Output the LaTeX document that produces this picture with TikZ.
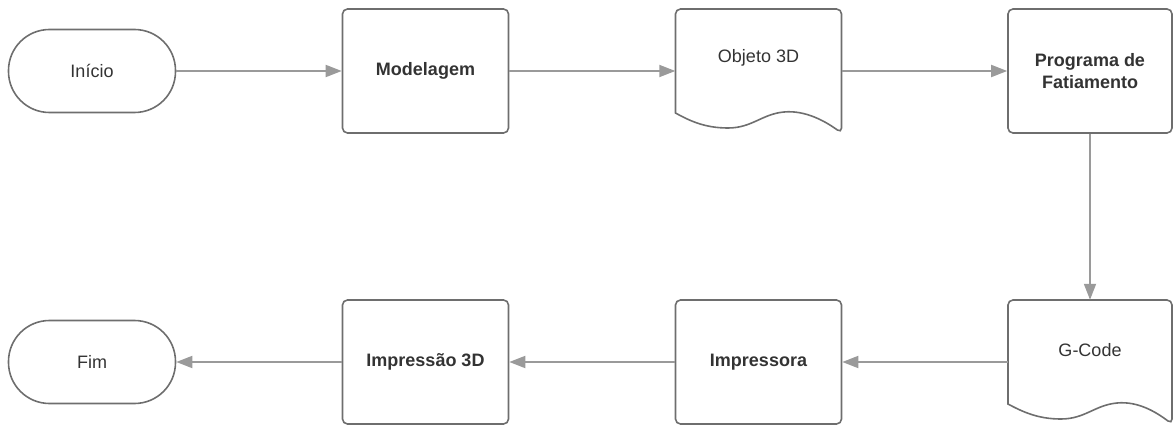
\documentclass[tikz,border=0pt]{standalone}
\usepackage{fontspec}
\setmainfont{Liberation Sans}
\usetikzlibrary{arrows.meta}
\definecolor{strokec}{HTML}{6E6E6E}
\definecolor{arrowc}{HTML}{9A9A9A}
\definecolor{textc}{HTML}{333333}
\tikzset{
  boxst/.style={draw=strokec, line width=1.6pt, rounded corners=5pt, minimum width=166pt, minimum height=124pt, inner sep=0pt, text=textc, font=\fontsize{18}{22}\selectfont\bfseries, align=center},
  termst/.style={draw=strokec, line width=1.6pt, rounded corners=41pt, minimum width=167pt, minimum height=83pt, inner sep=0pt, text=textc, font=\fontsize{18}{22}\selectfont},
  docst/.style={draw=none, minimum width=166pt, minimum height=124pt, inner sep=0pt},
  doctext/.style={text=textc, font=\fontsize{18}{22}\selectfont, inner sep=0pt},
  docline/.style={draw=strokec, line width=1.6pt, rounded corners=5pt},
  flow/.style={draw=arrowc, line width=1.8pt, -{Triangle[length=16pt,width=12pt]}}
}
\begin{document}
\begin{tikzpicture}[x=1pt,y=-1pt]
\useasboundingbox (0,0) rectangle (1173,425);
% top row
\node[termst] (inicio) at (92,71) {Início};
\node[boxst] (model) at (425.5,71) {Modelagem};
\node[docst] (obj) at (758.5,71) {};
\node[boxst, minimum width=164pt] (prog) at (1090,71) {Programa de\\Fatiamento};
% bottom row
\node[docst, minimum width=164pt] (gcode) at (1090,362) {};
\node[boxst] (impra) at (758.5,362) {Impressora};
\node[boxst] (impsao) at (425.5,362) {Impressão 3D};
\node[termst] (fim) at (92,362) {Fim};
% document shapes
\draw[docline] (675.5,113) -- (675.5,9) -- (841.5,9) -- (841.5,133) [sharp corners]
  .. controls (825,121) and (805,110) .. (784,112)
  .. controls (762,114) and (752,128) .. (728,128)
  .. controls (705,128) and (690,121) .. (675.5,113) -- cycle;
\node[doctext] (objt) at (758.5,58) {Objeto 3D};
\draw[docline] (1008,404) -- (1008,300) -- (1172,300) -- (1172,424) [sharp corners]
  .. controls (1156,412) and (1138,401) .. (1117,403)
  .. controls (1095,405) and (1085,419) .. (1061,419)
  .. controls (1038,419) and (1023,412) .. (1008,404) -- cycle;
\node[doctext] (gcodet) at (1090,350) {G-Code};
% connectors
\draw[flow] (inicio.east) -- (model.west);
\draw[flow] (model.east) -- (obj.west);
\draw[flow] (obj.east) -- (prog.west);
\draw[flow] (prog.south) -- (gcode.north);
\draw[flow] (gcode.west) -- (impra.east);
\draw[flow] (impra.west) -- (impsao.east);
\draw[flow] (impsao.west) -- (fim.east);
\end{tikzpicture}
\end{document}
